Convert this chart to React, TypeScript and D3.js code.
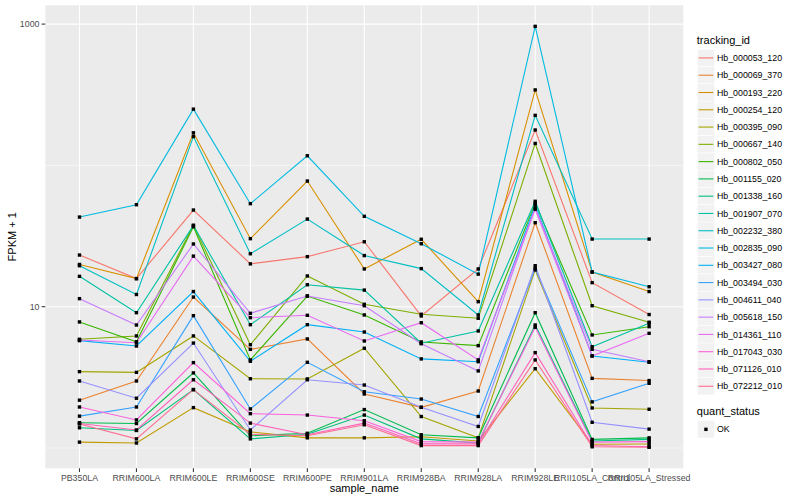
import React from "react";
import * as d3 from "d3";

const samples = [
  "PB350LA", "RRIM600LA", "RRIM600LE", "RRIM600SE", "RRIM600PE", "RRIM901LA",
  "RRIM928BA", "RRIM928LA", "RRIM928LE", "RRII105LA_Control", "RRII105LA_Stressed",
];

const trackingIds = [
  "Hb_000053_120", "Hb_000069_370", "Hb_000193_220", "Hb_000254_120", "Hb_000395_090",
  "Hb_000667_140", "Hb_000802_050", "Hb_001155_020", "Hb_001338_160", "Hb_001907_070",
  "Hb_002232_380", "Hb_002835_090", "Hb_003427_080", "Hb_003494_030", "Hb_004611_040",
  "Hb_005618_150", "Hb_014361_110", "Hb_017043_030", "Hb_071126_010", "Hb_072212_010",
];

// FPKM + 1 per sample, one array per tracking_id
const hb000053_120 = [23.2, 15.8, 48.3, 20.1, 22.6, 28.8, 8.6, 18.5, 178, 14.8, 8.8];
const hb000069_370 = [2.18, 2.98, 11.7, 4.99, 5.91, 2.41, 1.94, 2.53, 39.3, 3.11, 3.0];
const hb000193_220 = [19.9, 15.8, 170, 30.3, 77.5, 18.5, 30.0, 10.85, 342, 17.6, 12.8];
const hb000254_120 = [1.1, 1.085, 1.93, 1.3, 1.18, 1.18, 1.2, 1.12, 3.64, 1.063, 1.068];
const hb000395_090 = [3.47, 3.43, 6.21, 3.09, 3.08, 5.08, 1.67, 1.18, 18.2, 1.92, 1.88];
const hb000667_140 = [5.88, 6.21, 37.7, 5.38, 16.5, 10.4, 8.84, 8.28, 143, 10.16, 7.76];
const hb000802_050 = [7.8, 5.65, 36.8, 4.2, 11.9, 8.74, 5.63, 5.3, 53.9, 6.31, 7.22];
const hb001155_020 = [1.51, 1.49, 3.4, 1.22, 1.27, 1.87, 1.24, 1.18, 9.07, 1.15, 1.18];
const hb001338_160 = [1.39, 1.33, 2.59, 1.16, 1.25, 1.71, 1.16, 1.085, 7.42, 1.12, 1.15];
const hb001907_070 = [16.4, 9.07, 37.5, 7.46, 14.3, 13.1, 5.51, 6.73, 55.7, 5.21, 7.63];
const hb002232_380 = [19.5, 12.2, 160, 23.7, 41.7, 23.0, 18.6, 8.74, 226, 30.1, 30.1];
const hb002835_090 = [43.1, 52.7, 250, 53.6, 117, 43.6, 27.9, 17.0, 964, 17.6, 13.85];
const hb003427_080 = [5.75, 5.27, 12.8, 4.11, 7.46, 6.62, 4.27, 4.08, 52.4, 4.48, 4.04];
const hb003494_030 = [1.68, 1.95, 8.64, 1.89, 4.04, 2.5, 2.22, 1.67, 18.7, 2.12, 2.87];
const hb004611_040 = [2.98, 2.25, 5.53, 1.34, 3.04, 2.79, 1.94, 1.42, 19.5, 1.52, 1.36];
const hb005618_150 = [11.4, 7.42, 27.8, 8.98, 11.9, 10.16, 5.47, 3.51, 49.9, 4.99, 4.08];
const hb014361_110 = [5.81, 5.56, 22.8, 8.36, 8.69, 5.72, 7.7, 4.2, 48.9, 4.48, 6.48];
const hb017043_030 = [1.95, 1.58, 4.02, 1.75, 1.71, 1.56, 1.11, 1.1, 7.15, 1.1, 1.11];
const hb071126_010 = [1.49, 1.34, 3.04, 1.5, 1.24, 1.5, 1.07, 1.07, 4.73, 1.04, 1.02];
const hb072212_010 = [1.48, 1.16, 2.59, 1.25, 1.22, 1.46, 1.04, 1.04, 4.2, 1.02, 1.012];

const seriesValues = [
  hb000053_120, hb000069_370, hb000193_220, hb000254_120, hb000395_090,
  hb000667_140, hb000802_050, hb001155_020, hb001338_160, hb001907_070,
  hb002232_380, hb002835_090, hb003427_080, hb003494_030, hb004611_040,
  hb005618_150, hb014361_110, hb017043_030, hb071126_010, hb072212_010,
];

const yTickValues = [10, 1000];
const yMinorValues = [1, 100];
const quantStatus = ["OK"];

const palette = [
  "#F8766D", "#EA8331", "#D89000", "#C09B00", "#A3A500", "#7CAE00", "#39B600",
  "#00BB4E", "#00BF7D", "#00C1A3", "#00BFC4", "#00BAE0", "#00B0F6", "#35A2FF",
  "#9590FF", "#C77CFF", "#E76BF3", "#FA62DB", "#FF62BC", "#FF6C91",
];

const FONT = "'Liberation Sans', Arial, Helvetica, sans-serif";
const panel = { left: 45.3, right: 683.3, top: 5.3, bottom: 468.3 };

export default function App() {
  const all = seriesValues.flat();
  const lo = Math.log10(d3.min(all) as number);
  const hi = Math.log10(d3.max(all) as number);
  const pad = (hi - lo) * 0.05;
  const y = d3.scaleLog()
    .domain([Math.pow(10, lo - pad), Math.pow(10, hi + pad)])
    .range([panel.bottom, panel.top]);
  const x = d3.scalePoint<string>()
    .domain(samples)
    .range([panel.left, panel.right])
    .padding(0.6);
  const line = d3.line<number>()
    .x((_, i) => x(samples[i]) as number)
    .y((v) => y(v));

  const keySize = 17.28;
  const legX = 697.3;
  const legTop = 49.3;
  const tickLen = 3.67;

  return (
    <div style={{ position: "absolute", left: 0, top: 0 }}>
      <svg width={800} height={500} style={{ display: "block" }} fontFamily={FONT}>
        <rect width={800} height={500} fill="#FFFFFF" />
        <rect
          x={panel.left}
          y={panel.top}
          width={panel.right - panel.left}
          height={panel.bottom - panel.top}
          fill="#EBEBEB"
        />
        {yMinorValues.map((v) => (
          <line key={"mn" + v} x1={panel.left} x2={panel.right} y1={y(v)} y2={y(v)} stroke="#FFFFFF" strokeWidth={0.55} />
        ))}
        {yTickValues.map((v) => (
          <line key={"mj" + v} x1={panel.left} x2={panel.right} y1={y(v)} y2={y(v)} stroke="#FFFFFF" strokeWidth={1.07} />
        ))}
        {samples.map((s) => (
          <line key={"vx" + s} x1={x(s)} x2={x(s)} y1={panel.top} y2={panel.bottom} stroke="#FFFFFF" strokeWidth={1.07} />
        ))}

        {seriesValues.map((vals, i) => (
          <path key={"ln" + i} d={line(vals) as string} fill="none" stroke={palette[i]} strokeWidth={1.1} />
        ))}
        {seriesValues.map((vals, i) =>
          vals.map((v, j) => (
            <rect
              key={"pt" + i + "_" + j}
              x={(x(samples[j]) as number) - 1.7}
              y={y(v) - 1.7}
              width={3.4}
              height={3.4}
              fill="#000000"
            />
          ))
        )}

        {/* y axis */}
        {yTickValues.map((v) => (
          <g key={"yt" + v}>
            <line x1={panel.left - tickLen} x2={panel.left} y1={y(v)} y2={y(v)} stroke="#333333" strokeWidth={1.07} />
            <text x={panel.left - tickLen - 2.2} y={y(v) + 3.1} textAnchor="end" fontSize={8.8} fill="#4D4D4D">
              {String(v)}
            </text>
          </g>
        ))}
        {/* x axis */}
        {samples.map((s) => (
          <g key={"xt" + s}>
            <line x1={x(s)} x2={x(s)} y1={panel.bottom} y2={panel.bottom + tickLen} stroke="#333333" strokeWidth={1.07} />
            <text x={x(s)} y={480.6} textAnchor="middle" fontSize={8.8} fill="#4D4D4D">
              {s}
            </text>
          </g>
        ))}
        <text x={(panel.left + panel.right) / 2} y={491.8} textAnchor="middle" fontSize={11} fill="#000000">
          sample_name
        </text>
        <text
          transform={`translate(16.3,${(panel.top + panel.bottom) / 2}) rotate(-90)`}
          textAnchor="middle"
          fontSize={11}
          fill="#000000"
        >
          FPKM + 1
        </text>

        {/* legend: tracking_id */}
        <text x={legX - 0.5} y={43.5} fontSize={11} fill="#000000">tracking_id</text>
        {trackingIds.map((id, i) => {
          const top = legTop + i * keySize;
          const cy = top + keySize / 2;
          return (
            <g key={"lg" + id}>
              <rect x={legX} y={top} width={keySize} height={keySize} fill="#F2F2F2" stroke="#FFFFFF" strokeWidth={0.5} />
              <line x1={legX + 1.2} x2={legX + keySize - 1.2} y1={cy} y2={cy} stroke={palette[i]} strokeWidth={1.1} />
              <text x={legX + keySize + 2.4} y={cy + 3.1} fontSize={8.8} fill="#000000">{id}</text>
            </g>
          );
        })}

        {/* legend: quant_status */}
        <text x={legX - 0.5} y={414.6} fontSize={11} fill="#000000">quant_status</text>
        {quantStatus.map((q, i) => {
          const top = 420.7 + i * keySize;
          const cy = top + keySize / 2;
          return (
            <g key={"qs" + q}>
              <rect x={legX} y={top} width={keySize} height={keySize} fill="#F2F2F2" stroke="#FFFFFF" strokeWidth={0.5} />
              <rect x={legX + keySize / 2 - 1.7} y={cy - 1.7} width={3.4} height={3.4} fill="#000000" />
              <text x={legX + keySize + 2.4} y={cy + 3.1} fontSize={8.8} fill="#000000">{q}</text>
            </g>
          );
        })}
      </svg>
    </div>
  );
}
